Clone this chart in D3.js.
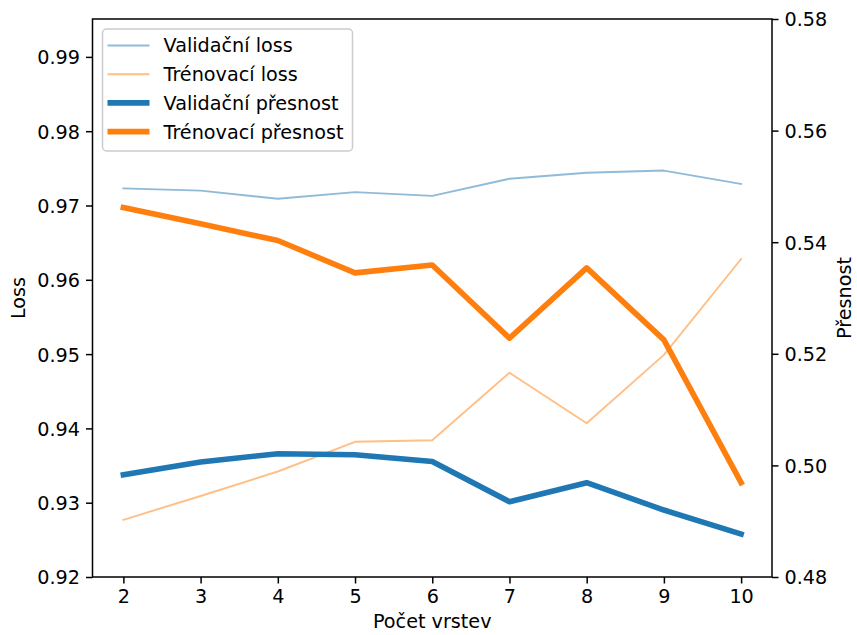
<!DOCTYPE html>
<html>
<head>
<meta charset="utf-8">
<script src="https://cdn.jsdelivr.net/npm/d3@7"></script>
<style>
  body { margin: 0; background: #fff; }
  text { font-family: "DejaVu Sans", sans-serif; }
</style>
</head>
<body>
<div id="chart"></div>
<script>
// values
var layers = [2, 3, 4, 5, 6, 7, 8, 9, 10];
var valLoss = [0.9723, 0.9720, 0.9709, 0.9718, 0.9713, 0.9736, 0.9744, 0.9747, 0.9729];
var trainLoss = [0.9277, 0.9309, 0.9342, 0.9382, 0.9384, 0.9475, 0.9407, 0.9499, 0.9628];
var valAcc = [0.4983, 0.5006, 0.5021, 0.5019, 0.5007, 0.4935, 0.4969, 0.4920, 0.4877];
var trainAcc = [0.5462, 0.5433, 0.5403, 0.5345, 0.5359, 0.5228, 0.5354, 0.5225, 0.4969];
var lossTicks = [0.92, 0.93, 0.94, 0.95, 0.96, 0.97, 0.98, 0.99];
var accTicks = [0.48, 0.50, 0.52, 0.54, 0.56, 0.58];

var blue = "#1f77b4", orange = "#ff7f0e";
var fs = "19.2px";
var margin = { top: 19, right: 85, bottom: 58, left: 92.5 };
var W = 857, H = 635;
var width = W - margin.left - margin.right;
var height = H - margin.top - margin.bottom;

var svg = d3.select("#chart").append("svg")
  .attr("width", W).attr("height", H);
var g = svg.append("g")
  .attr("transform", "translate(" + margin.left + "," + margin.top + ")");

var x = d3.scaleLinear().domain([1.6, 10.4]).range([0, width]);
var yL = d3.scaleLinear().domain([0.92, 0.9951]).range([height, 0]);
var yR = d3.scaleLinear().domain([0.48, 0.58]).range([height, 0]);

function line(ys, scale) {
  return d3.line()
    .x(function (d, i) { return x(layers[i]); })
    .y(function (d) { return scale(d); })(ys);
}

// series
var series = [
  { name: "Validační loss", data: valLoss, scale: yL, color: blue, w: 1.9, op: 0.5 },
  { name: "Trénovací loss", data: trainLoss, scale: yL, color: orange, w: 1.9, op: 0.5 },
  { name: "Validační přesnost", data: valAcc, scale: yR, color: blue, w: 5.6, op: 1 },
  { name: "Trénovací přesnost", data: trainAcc, scale: yR, color: orange, w: 5.6, op: 1 }
];
series.forEach(function (s) {
  g.append("path")
    .attr("d", line(s.data, s.scale))
    .attr("fill", "none")
    .attr("stroke", s.color)
    .attr("stroke-opacity", s.op)
    .attr("stroke-width", s.w)
    .attr("stroke-linejoin", "round")
    .attr("stroke-linecap", "square");
});

// axes
function styleAxis(sel) {
  sel.selectAll("text").attr("font-size", fs).attr("fill", "#000")
    .attr("font-family", "DejaVu Sans, sans-serif");
  sel.selectAll("line").attr("stroke-width", 1.5);
  sel.select(".domain").remove();
}
g.append("g").attr("transform", "translate(0," + height + ")")
  .call(d3.axisBottom(x).tickValues(layers).tickFormat(d3.format("d")).tickSizeOuter(0).tickSize(6.5).tickPadding(6))
  .call(styleAxis);
g.append("g")
  .call(d3.axisLeft(yL).tickValues(lossTicks).tickFormat(d3.format(".2f")).tickSize(6.5).tickPadding(6))
  .call(styleAxis)
  .selectAll("text").attr("dy", "0.36em");
g.append("g").attr("transform", "translate(" + width + ",0)")
  .call(d3.axisRight(yR).tickValues(accTicks).tickFormat(d3.format(".2f")).tickSize(6.5).tickPadding(6))
  .call(styleAxis)
  .selectAll("text").attr("dy", "0.36em");

// frame
g.append("rect").attr("width", width).attr("height", height)
  .attr("fill", "none").attr("stroke", "#000").attr("stroke-width", 1.5);

// axis labels
svg.append("text").attr("x", margin.left + width / 2).attr("y", 628)
  .attr("text-anchor", "middle").attr("font-size", fs).text("Počet vrstev");
svg.append("text").attr("transform", "translate(25," + (margin.top + height / 2) + ") rotate(-90)")
  .attr("text-anchor", "middle").attr("font-size", fs).text("Loss");
svg.append("text").attr("transform", "translate(851," + (margin.top + height / 2) + ") rotate(-90)")
  .attr("text-anchor", "middle").attr("font-size", fs).text("Přesnost");

// legend
var leg = g.append("g").attr("transform", "translate(10,10)");
leg.append("rect").attr("width", 250).attr("height", 122).attr("rx", 4)
  .attr("fill", "#fff").attr("fill-opacity", 0.8)
  .attr("stroke", "#cccccc").attr("stroke-width", 1.5);
series.forEach(function (s, i) {
  var yy = 16.5 + i * 28.7;
  leg.append("line").attr("x1", 5).attr("x2", 47).attr("y1", yy).attr("y2", yy)
    .attr("stroke", s.color).attr("stroke-opacity", s.op).attr("stroke-width", s.w);
  leg.append("text").attr("x", 61).attr("y", yy).attr("dy", "0.36em")
    .attr("font-size", fs).text(s.name);
});
</script>
</body>
</html>
